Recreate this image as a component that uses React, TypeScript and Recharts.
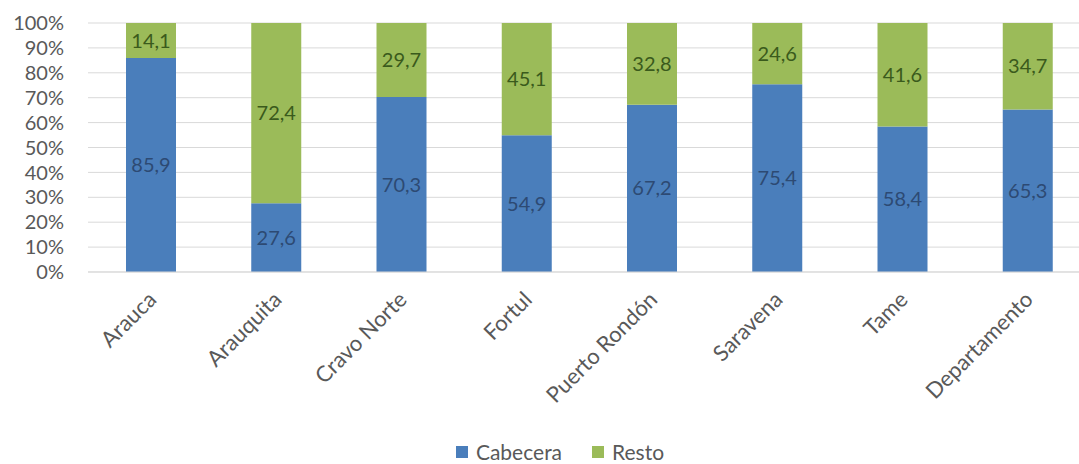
import { BarChart, Bar, XAxis, YAxis, CartesianGrid, Legend, LabelList } from "recharts";

const municipios = ["Arauca", "Arauquita", "Cravo Norte", "Fortul", "Puerto Rondón", "Saravena", "Tame", "Departamento"];
const cabecera = [85.9, 27.6, 70.3, 54.9, 67.2, 75.4, 58.4, 65.3];
const resto = [14.1, 72.4, 29.7, 45.1, 32.8, 24.6, 41.6, 34.7];
const yTicks = [0, 10, 20, 30, 40, 50, 60, 70, 80, 90, 100];

const series = [
  { key: "cabecera", name: "Cabecera", color: "#4a7ebb", label: "#2d4a73" },
  { key: "resto", name: "Resto", color: "#9bbb59", label: "#3a5a1c" }
];

const data = municipios.map((m, i) => ({ name: m, cabecera: cabecera[i], resto: resto[i] }));

const fuente = "Lato, 'Open Sans', sans-serif";
const coma = (v: number) => v.toFixed(1).replace(".", ",");

// leyenda propia: cuadrito + texto
const Leyenda = () => (
  <div style={{ display: "flex", justifyContent: "center", fontFamily: fuente, fontSize: 21, color: "#595959", paddingLeft: 60 }}>
    {series.map((s) => (
      <div key={s.key} style={{ display: "flex", alignItems: "center", marginRight: 30 }}>
        <span style={{ width: 12, height: 12, background: s.color, marginRight: 8, display: "inline-block" }} />
        <span>{s.name}</span>
      </div>
    ))}
  </div>
);

export default function App() {
  return (
    <div style={{ position: "fixed", left: 0, top: 0, width: 1079, height: 464, overflow: "hidden", background: "#fff" }}>
      <BarChart
        width={1092}
        height={464}
        data={data}
        margin={{ top: 23, right: 2, left: 0, bottom: 0 }}
        style={{ fontFamily: fuente }}
      >
        <CartesianGrid vertical={false} stroke="#d9d9d9" />
        <XAxis
          dataKey="name"
          interval={0}
          angle={-45}
          textAnchor="end"
          height={167}
          tickLine={false}
          tickMargin={12}
          dx={-4}
          axisLine={{ stroke: "#d9d9d9" }}
          tick={{ fontSize: 22, fill: "#595959" }}
        />
        <YAxis
          width={88}
          domain={[0, 100]}
          ticks={yTicks}
          interval={0}
          tickFormatter={(v: number) => `${v}%`}
          tickLine={false}
          axisLine={false}
          tickMargin={18}
          tick={{ fontSize: 20, fill: "#595959" }}
        />
        <Legend verticalAlign="bottom" content={<Leyenda />} />
        {series.map((s) => (
          <Bar key={s.key} dataKey={s.key} name={s.name} stackId="a" fill={s.color} barSize={50} isAnimationActive={false}>
            <LabelList dataKey={s.key} position="center" formatter={coma} style={{ fill: s.label, fontSize: 20 }} />
          </Bar>
        ))}
      </BarChart>
    </div>
  );
}
